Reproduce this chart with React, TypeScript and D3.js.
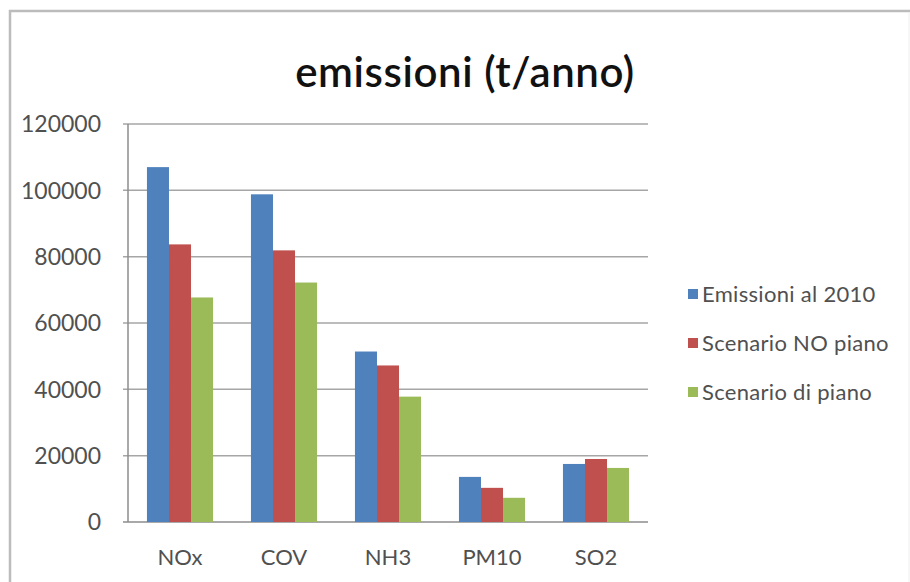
import React from "react";
import * as d3 from "d3";

const categories = ["NOx", "COV", "NH3", "PM10", "SO2"];
const seriesNames = ["Emissioni al 2010", "Scenario NO piano", "Scenario di piano"];
const emissioni2010 = [107000, 98800, 51400, 13600, 17500];
const scenarioNoPiano = [83700, 81900, 47200, 10300, 19000];
const scenarioDiPiano = [67700, 72200, 37800, 7300, 16300];
const yTicks = [0, 20000, 40000, 60000, 80000, 100000, 120000];
const colors = ["#4F81BD", "#C0504D", "#9BBB59"];

const W = 910;
const H = 582;
const plot = { left: 128, right: 648, top: 124, bottom: 522 };

export default function App() {
  const seriesValues = [emissioni2010, scenarioNoPiano, scenarioDiPiano];
  const y = d3.scaleLinear().domain([0, 120000]).range([plot.bottom, plot.top]);
  const x0 = d3.scaleBand<string>().domain(categories).range([plot.left, plot.right]).padding(0);
  const x1 = d3
    .scaleBand<string>()
    .domain(seriesNames)
    .range([0, x0.bandwidth()])
    .paddingInner(0)
    .paddingOuter(0.86);
  const font = "Lato, 'Open Sans', sans-serif";

  return (
    <svg
      width={W}
      height={H}
      style={{ position: "absolute", left: 0, top: 0, background: "#fff" }}
    >
      <rect x={0} y={0} width={W} height={H} fill="#fff" />
      {/* chart area border */}
      <rect x={10} y={11} width={W + 20} height={H + 20} fill="none" stroke="#bcbcbc" strokeWidth={2.5} />
      <line x1={909} y1={12} x2={909} y2={H} stroke="#eeeeee" strokeWidth={1} />

      {/* title */}
      <text
        x={465}
        y={87}
        textAnchor="middle"
        fontFamily={font}
        fontSize={42}
        fontWeight={600}
        letterSpacing={0.6}
        fill="#111"
      >
        emissioni (t/anno)
      </text>

      {/* gridlines */}
      {yTicks.map((t) => (
        <line
          key={"g" + t}
          x1={plot.left - 5}
          x2={plot.right}
          y1={y(t)}
          y2={y(t)}
          stroke={t === 0 ? "#8c8c8c" : "#a6a6a6"}
          strokeWidth={1.5}
        />
      ))}
      {/* y axis line */}
      <line x1={plot.left} x2={plot.left} y1={plot.top} y2={plot.bottom} stroke="#8c8c8c" strokeWidth={1.5} />

      {/* y tick labels */}
      {yTicks.map((t) => (
        <text
          key={"l" + t}
          x={101}
          y={y(t)}
          dy="0.36em"
          textAnchor="end"
          fontFamily={font}
          fontSize={23}
          fill="#505050"
        >
          {t}
        </text>
      ))}

      {/* bars */}
      {categories.map((c, ci) => (
        <g key={c} transform={`translate(${x0(c)},0)`}>
          {seriesNames.map((s, si) => {
            const v = seriesValues[si][ci];
            return (
              <rect
                key={s}
                x={x1(s)}
                y={y(v)}
                width={x1.bandwidth()}
                height={y(0) - y(v)}
                fill={colors[si]}
              />
            );
          })}
        </g>
      ))}

      {/* category labels */}
      {categories.map((c) => (
        <text
          key={"c" + c}
          x={(x0(c) as number) + x0.bandwidth() / 2}
          y={565}
          textAnchor="middle"
          fontFamily={font}
          fontSize={22}
          fill="#505050"
        >
          {c}
        </text>
      ))}

      {/* legend */}
      {seriesNames.map((s, i) => {
        const cy = 294 + i * 49;
        return (
          <g key={"lg" + s}>
            <rect x={688} y={cy - 5} width={10} height={10} fill={colors[i]} />
            <text
              x={702}
              y={cy}
              dy="0.36em"
              fontFamily={font}
              fontSize={22}
              letterSpacing={0.3}
              fill="#505050"
            >
              {s}
            </text>
          </g>
        );
      })}
    </svg>
  );
}
